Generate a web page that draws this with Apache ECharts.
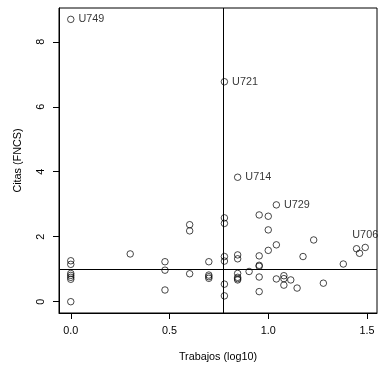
<!DOCTYPE html>
<html>
<head>
<meta charset="utf-8">
<script src="https://cdn.jsdelivr.net/npm/echarts@6/dist/echarts.min.js"></script>
<style>
html,body{margin:0;padding:0;background:#fff;}
#chart{width:378px;height:369px;}
</style>
</head>
<body>
<div id="chart"></div>
<script>
// Trabajos (log10) per point
var xVals = [0, 0, 0, 0, 0, 0, 0, 0,
  0.301,
  0.477, 0.477, 0.477,
  0.602, 0.602, 0.602,
  0.699, 0.699, 0.699, 0.699,
  0.778, 0.778, 0.778, 0.778, 0.778, 0.778, 0.778,
  0.845, 0.845, 0.845, 0.845, 0.845, 0.845, 0.845,
  0.903,
  0.954, 0.954, 0.954, 0.954, 0.954, 0.954,
  1.0, 1.0, 1.0,
  1.041, 1.041, 1.041,
  1.079, 1.079, 1.079,
  1.114, 1.146, 1.176, 1.230, 1.279, 1.380, 1.447, 1.462, 1.491];
// Citas (FNCS) per point
var yVals = [8.69, 1.26, 1.15, 0.87, 0.81, 0.75, 0.69, 0.0,
  1.47,
  1.23, 0.97, 0.36,
  2.37, 2.18, 0.86,
  1.23, 0.82, 0.77, 0.72,
  6.77, 2.58, 2.41, 1.39, 1.25, 0.54, 0.18,
  3.83, 1.44, 1.32, 0.87, 0.75, 0.71, 0.67,
  0.93,
  2.67, 1.41, 1.12, 1.09, 0.76, 0.31,
  2.63, 2.21, 1.58,
  2.98, 1.75, 0.70,
  0.80, 0.71, 0.51,
  0.67, 0.42, 1.39, 1.90, 0.57, 1.16, 1.63, 1.49, 1.67];
// labels of highlighted points ('' = no label)
var pointNames = ['U749', '', '', '', '', '', '', '',
  '',
  '', '', '',
  '', '', '',
  '', '', '', '',
  'U721', '', '', '', '', '', '',
  'U714', '', '', '', '', '', '',
  '',
  '', '', '', '', '', '',
  '', '', '',
  'U729', '', '',
  '', '', '',
  '', '', '', '', '', '', '', '', 'U706'];
var xTicks = [0, 0.5, 1.0, 1.5];
var yTicks = [0, 2, 4, 6, 8];
var vLine = 0.772;
var hLine = 1;
var xTitle = 'Trabajos (log10)';
var yTitle = 'Citas (FNCS)';

var FONT = 'Liberation Sans, Arial, Helvetica, sans-serif';
var FS = 10.8;
var data = xVals.map(function (x, i) {
  var d = { value: [x, yVals[i]], name: pointNames[i] };
  if (pointNames[i]) {
    d.label = {
      show: true,
      formatter: pointNames[i],
      position: pointNames[i] === 'U706' ? 'top' : 'right',
      distance: pointNames[i] === 'U706' ? 3 : 4,
      color: '#000',
      fontSize: FS,
      fontFamily: FONT
    };
  }
  return d;
});

var chart = echarts.init(document.getElementById('chart'), null, { renderer: 'canvas' });
chart.setOption({
  animation: false,
  backgroundColor: '#fff',
  grid: {
    left: 59, top: 8, width: 318, height: 305,
    show: true, borderColor: '#000', borderWidth: 1, backgroundColor: 'transparent'
  },
  xAxis: {
    type: 'value',
    min: -0.0596, max: 1.5506,
    name: xTitle, nameLocation: 'middle', nameGap: 39,
    nameTextStyle: { color: '#000', fontSize: FS, fontFamily: FONT },
    splitLine: { show: false },
    axisLine: { show: true, onZero: false, lineStyle: { color: '#000', width: 1 } },
    axisTick: { show: true, length: 6, inside: false, customValues: xTicks, lineStyle: { color: '#000' } },
    axisLabel: {
      customValues: xTicks, margin: 13, color: '#000', fontSize: FS, fontFamily: FONT,
      formatter: function (v) { return v.toFixed(1); }
    }
  },
  yAxis: {
    type: 'value',
    min: -0.348, max: 9.04,
    name: yTitle, nameLocation: 'middle', nameGap: 35,
    nameTextStyle: { color: '#000', fontSize: FS, fontFamily: FONT },
    splitLine: { show: false },
    axisLine: { show: true, onZero: false, lineStyle: { color: '#000', width: 1 } },
    axisTick: { show: true, length: 6, inside: false, customValues: yTicks, lineStyle: { color: '#000' } },
    axisLabel: {
      customValues: yTicks, margin: 12, rotate: 90, color: '#000', fontSize: FS, fontFamily: FONT,
      formatter: function (v) { return String(v); }
    }
  },
  series: [{
    type: 'scatter',
    data: data,
    symbol: 'circle',
    symbolSize: 6.5,
    itemStyle: { color: 'rgba(0,0,0,0)', borderColor: '#000', borderWidth: 0.9 },
    emphasis: { disabled: true },
    markLine: {
      silent: true,
      symbol: ['none', 'none'],
      label: { show: false },
      lineStyle: { color: '#000', width: 1, type: 'solid' },
      data: [{ xAxis: vLine }, { yAxis: hLine }]
    }
  }]
});
</script>
</body>
</html>
